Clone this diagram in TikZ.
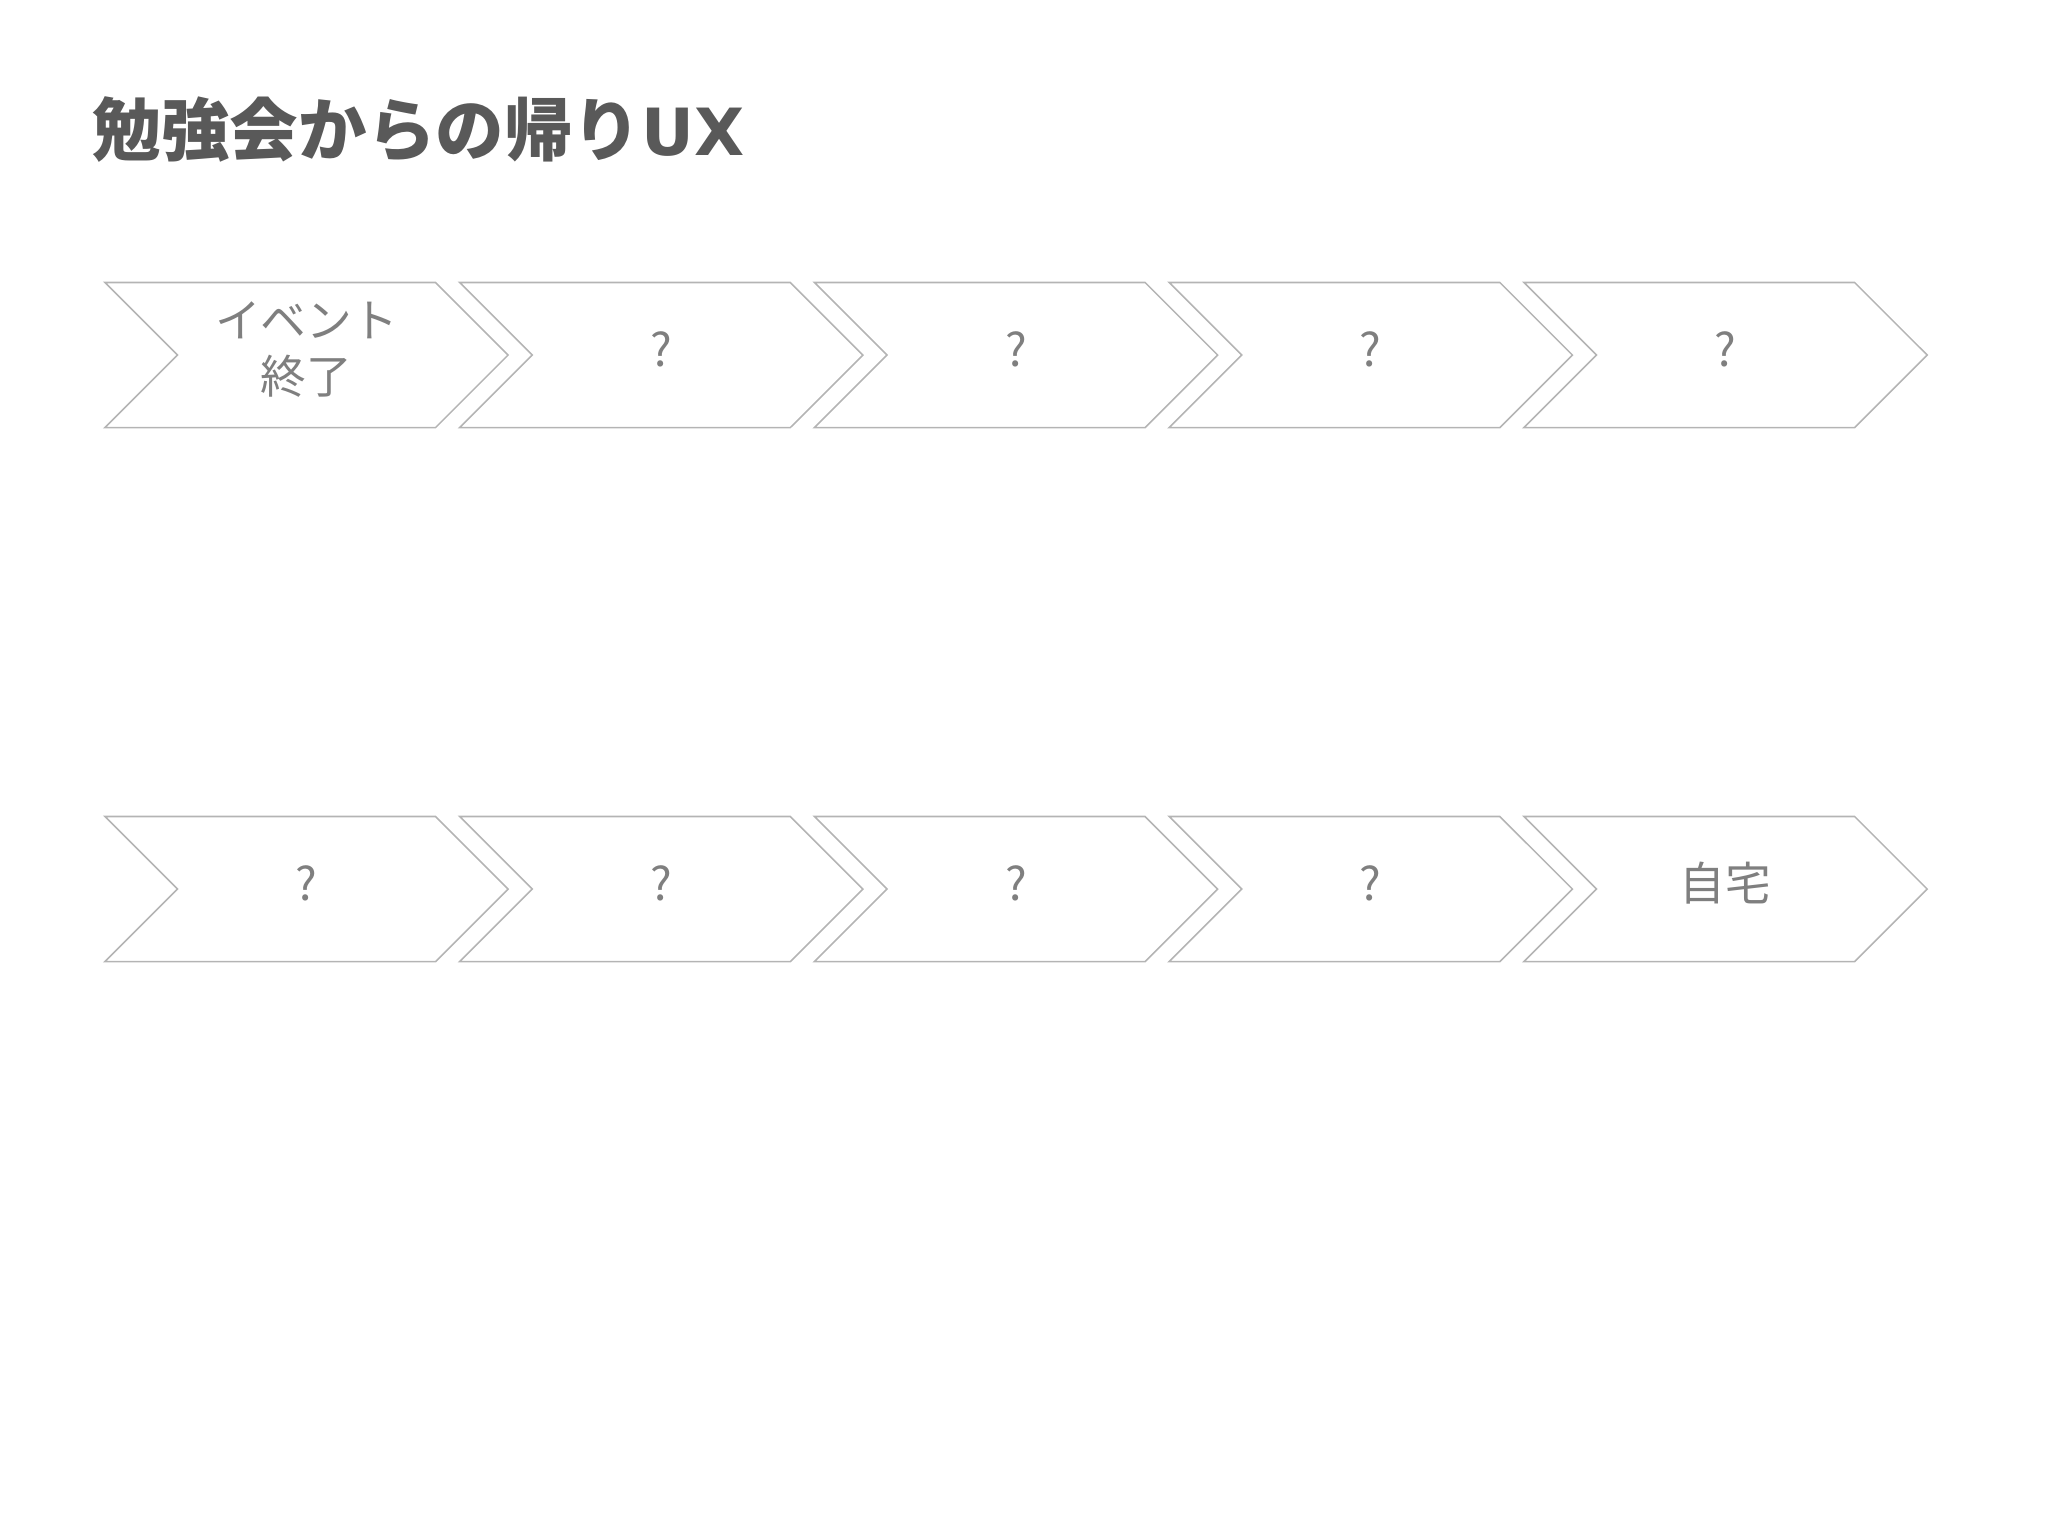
\documentclass[tikz,border=0pt]{standalone}
\usepackage{fontspec}
\setmainfont{Noto Sans CJK JP}
\newfontfamily\latinbold{DejaVu Sans}
\usetikzlibrary{shapes.symbols}
\definecolor{titlegray}{HTML}{595959}
\definecolor{textgray}{HTML}{7F7F7F}
\definecolor{linegray}{HTML}{B4B4B4}
\tikzset{
  stage/.style={shape=signal, signal from=west, signal to=east,
    signal pointer angle=90, draw=linegray, line width=0.45pt,
    minimum width=4.03cm, minimum height=1.45cm, inner sep=0pt},
  stagetext/.style={text=textgray, font=\fontsize{13}{16}\selectfont,
    align=center, inner sep=0pt, yshift=0.055cm},
}
\begin{document}
\begin{tikzpicture}[x=0.01cm, y=-0.01cm]
            \useasboundingbox (0,0) rectangle (2048,1536);
            \node[anchor=base west, inner sep=0pt, text=titlegray,
              font=\fontsize{19.5}{24}\selectfont\bfseries] (title) at (92,155) {勉強会からの帰り{\latinbold\fontsize{18.5}{24}\selectfont\bfseries UX}};
            % first row
            \node[stage, label={[stagetext]center:イベント\\終了}] (e1) at (306.5, 355) {};
            \node[stage, label={[stagetext]center:?}] (e2) at (661.25, 355) {};
            \node[stage, label={[stagetext]center:?}] (e3) at (1016, 355) {};
            \node[stage, label={[stagetext]center:?}] (e4) at (1370.75, 355) {};
            \node[stage, label={[stagetext]center:?}] (e5) at (1725.5, 355) {};
            % second row
            \node[stage, label={[stagetext]center:?}] (h1) at (306.5, 889) {};
            \node[stage, label={[stagetext]center:?}] (h2) at (661.25, 889) {};
            \node[stage, label={[stagetext]center:?}] (h3) at (1016, 889) {};
            \node[stage, label={[stagetext]center:?}] (h4) at (1370.75, 889) {};
            \node[stage, label={[stagetext]center:自宅}] (h5) at (1725.5, 889) {};
        \end{tikzpicture}
\end{document}
